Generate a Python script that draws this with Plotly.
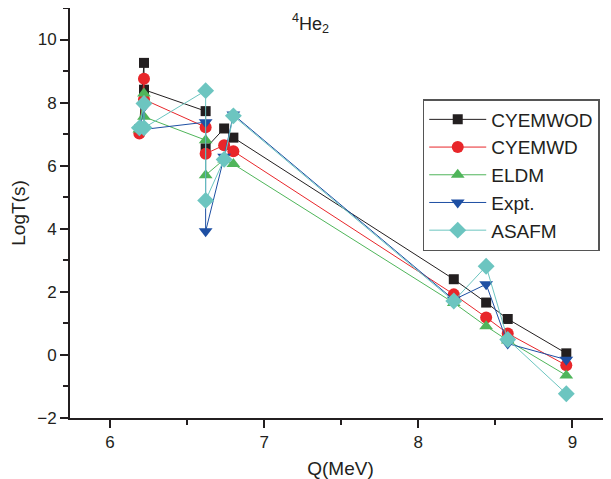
import plotly.graph_objects as go

# Q values (MeV) of the decays, in the order they are joined
q_mev = [6.19, 6.22, 6.22, 6.62, 6.62, 6.74, 6.80, 8.23, 8.44, 8.58, 8.96]

# log10 half-lives
cyemwod = [7.15, 9.26, 8.41, 7.73, 6.55, 7.18, 6.89, 2.40, 1.66, 1.14, 0.05]
cyemwd = [7.02, 8.76, 8.10, 7.22, 6.38, 6.65, 6.46, 1.92, 1.19, 0.68, -0.33]
eldm = [7.15, 8.29, 7.55, 6.81, 5.70, 6.20, 6.05, 1.65, 0.91, 0.46, -0.65]
expt = [7.13, 7.87, 7.15, 7.38, 3.92, 6.28, 7.62, 1.75, 2.24, 0.36, -0.15]
asafm = [7.20, 7.97, 7.20, 8.38, 4.90, 6.20, 7.58, 1.71, 2.81, 0.49, -1.23]

series = [
    ("CYEMWOD", cyemwod, "#231f20", "square", 10),
    ("CYEMWD", cyemwd, "#e8262a", "circle", 12),
    ("ELDM", eldm, "#4fb55a", "triangle-up", 12),
    ("Expt.", expt, "#1e4fa3", "triangle-down", 12),
    ("ASAFM", asafm, "#6cc5c0", "diamond", 13),
]

fig = go.Figure()
for name, vals, color, symbol, size in series:
    fig.add_trace(
        go.Scatter(
            x=q_mev,
            y=vals,
            name=name,
            mode="lines+markers",
            line=dict(color=color, width=1),
            marker=dict(symbol=symbol, size=size, color=color),
        )
    )

axis_style = dict(
    showline=True,
    linecolor="#231f20",
    linewidth=1.8,
    showgrid=False,
    zeroline=False,
    ticks="outside",
    ticklen=8,
    tickwidth=1.5,
    tickcolor="#231f20",
    tickfont=dict(size=17, color="#231f20"),
    mirror=False,
)

fig.update_xaxes(
    range=[5.74, 9.25],
    tickvals=[6, 7, 8, 9],
    minor=dict(tickvals=[6.5, 7.5, 8.5], ticks="outside", ticklen=5,
               tickwidth=1.5, tickcolor="#231f20"),
    title=dict(text="Q(MeV)", font=dict(size=19, color="#231f20"), standoff=10),
    **axis_style,
)
fig.update_yaxes(
    range=[-2, 11],
    tickvals=[-2, 0, 2, 4, 6, 8, 10],
    minor=dict(tickvals=[-1, 1, 3, 5, 7, 9, 11], ticks="outside", ticklen=5,
               tickwidth=1.5, tickcolor="#231f20"),
    title=dict(text="LogT(s)", font=dict(size=19, color="#231f20"), standoff=12),
    **axis_style,
)

fig.add_annotation(
    x=7.30, y=10.5, xref="x", yref="y",
    text="<sup>4</sup>He<sub>2</sub>",
    showarrow=False,
    font=dict(size=18, color="#231f20"),
)

# page body adds an 8px margin, so the figure is a little smaller
fig.update_layout(
    width=603,
    height=471,
    margin=dict(l=62, r=0, t=0, b=61),
    plot_bgcolor="white",
    paper_bgcolor="white",
    font=dict(family="Liberation Sans, Arial, sans-serif", color="#231f20"),
    showlegend=True,
    legend=dict(
        x=0.652,
        y=0.778,
        xanchor="left",
        yanchor="top",
        bordercolor="#555555",
        borderwidth=1.5,
        bgcolor="white",
        font=dict(size=19, color="#231f20"),
        itemwidth=57,
        tracegroupgap=0,
    ),
)

fig.write_html("out.html")
